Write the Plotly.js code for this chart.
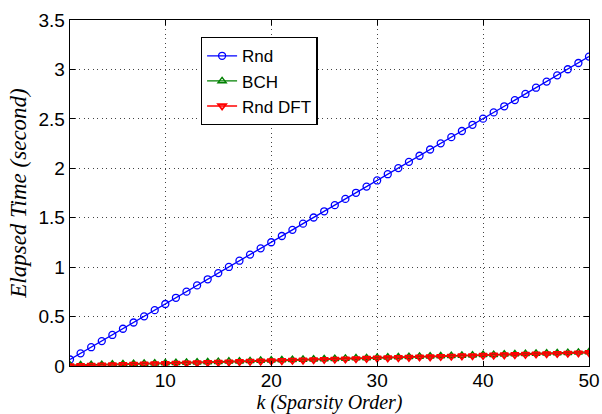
<!DOCTYPE html>
<html><head><meta charset="utf-8">
<script src="https://cdn.plot.ly/plotly-3.0.1.min.js"></script>
<style>body{margin:0;background:#fff}#c{width:602px;height:414px}</style>
</head><body><div id="c"></div>
<script>
const k = [1,2,3,4,5,6,7,8,9,10,11,12,13,14,15,16,17,18,19,20,21,22,23,24,25,26,27,28,29,30,31,32,33,34,35,36,37,38,39,40,41,42,43,44,45,46,47,48,49,50];
const rnd = [0.066,0.128,0.190,0.252,0.314,0.377,0.440,0.502,0.565,0.627,0.690,0.752,0.815,0.877,0.940,1.002,1.065,1.127,1.190,1.252,1.315,1.377,1.440,1.502,1.565,1.627,1.690,1.752,1.815,1.877,1.940,2.002,2.065,2.127,2.190,2.252,2.315,2.377,2.440,2.502,2.565,2.627,2.690,2.752,2.815,2.877,2.940,3.002,3.065,3.130];
const bch = [0.008,0.010,0.012,0.014,0.017,0.020,0.022,0.025,0.028,0.030,0.033,0.036,0.038,0.041,0.044,0.047,0.049,0.052,0.055,0.058,0.060,0.063,0.066,0.069,0.071,0.074,0.077,0.080,0.082,0.085,0.088,0.091,0.093,0.096,0.099,0.102,0.104,0.107,0.110,0.113,0.115,0.118,0.121,0.124,0.126,0.129,0.132,0.135,0.138,0.142];
const dft = [0.002,0.004,0.006,0.008,0.011,0.013,0.016,0.019,0.021,0.024,0.027,0.029,0.032,0.035,0.037,0.040,0.043,0.046,0.048,0.051,0.054,0.057,0.059,0.062,0.065,0.068,0.070,0.073,0.076,0.079,0.081,0.084,0.087,0.090,0.092,0.095,0.098,0.101,0.103,0.106,0.109,0.112,0.114,0.117,0.120,0.123,0.125,0.128,0.131,0.134];
const names = ['Rnd','BCH','Rnd DFT'];
const xticks = [10,20,30,40,50];
const yticks = [0,0.5,1,1.5,2,2.5,3,3.5];
const yticktext = ['0','0.5','1','1.5','2','2.5','3','3.5'];

const traces = [
 {x:k,y:rnd,name:names[0],mode:'lines+markers',line:{color:'#0000ff',width:1.3},marker:{symbol:'circle-open',size:7,color:'#0000ff',line:{width:1.3}}},
 {x:k,y:bch,name:names[1],mode:'lines+markers',line:{color:'#008000',width:1.3},marker:{symbol:'triangle-up-open',size:7,color:'#008000',line:{width:1.5}}},
 {x:k,y:dft,name:names[2],mode:'lines+markers',line:{color:'#ff0000',width:1.3},marker:{symbol:'triangle-down-open',size:7,color:'#ff0000',line:{width:1.8}}}
];
const ax = {showline:true,linecolor:'#000',linewidth:1.4,mirror:'ticks',ticks:'inside',ticklen:5,tickcolor:'#000',tickwidth:1,
  showgrid:true,gridcolor:'#444',griddash:'1px,3.5px',gridwidth:1,zeroline:false,
  tickfont:{family:'Liberation Sans, Arial, sans-serif',size:19,color:'#000'}};
const layout = {
 width:602,height:414,margin:{l:70,r:13,t:20,b:48},
 paper_bgcolor:'#fff',plot_bgcolor:'#fff',showlegend:true,
 xaxis:Object.assign({},ax,{range:[1,50],tickvals:xticks,ticktext:xticks.map(String),ticklabelstandoff:-3,
   title:{text:'k (Sparsity Order)',font:{family:'Liberation Serif, Times New Roman, serif',size:20,color:'#000',style:'italic'},standoff:1}}),
 yaxis:Object.assign({},ax,{range:[0,3.5],tickvals:yticks,ticktext:yticktext,
   title:{text:'Elapsed Time (second)',font:{family:'Liberation Serif, Times New Roman, serif',size:23,color:'#000',style:'italic'},standoff:5}}),
 legend:{x:0.252,y:0.951,xanchor:'left',yanchor:'top',bordercolor:'#000',borderwidth:1.3,bgcolor:'#fff',
   entrywidth:90,
   font:{family:'Liberation Sans, Arial, sans-serif',size:17,color:'#000'},tracegroupgap:0}
};
Plotly.newPlot('c',traces,layout,{displayModeBar:false,staticPlot:true});
</script></body></html>
